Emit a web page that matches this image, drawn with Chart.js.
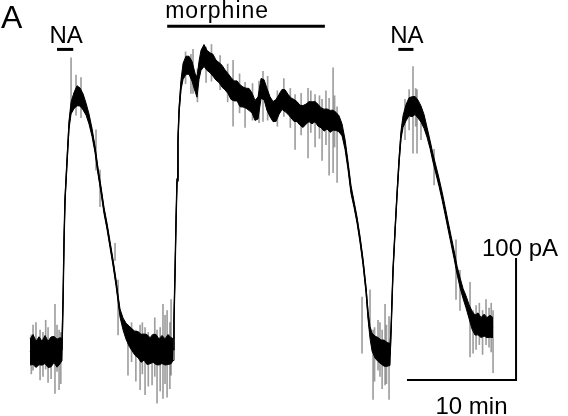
<!DOCTYPE html>
<html>
<head>
<meta charset="utf-8">
<script src="https://cdn.jsdelivr.net/npm/chart.js@4/dist/chart.umd.min.js"></script>
<style>
  html, body { margin: 0; padding: 0; background: #fff; }
  canvas { display: block; }
</style>
</head>
<body>
<canvas id="trace" width="568" height="416"></canvas>
<script>
// recording time (min), mean current (pA) and half-width of the noise band (pA)
const minutes = [
  0.00, 0.28, 0.56, 0.83, 1.11, 1.39, 1.67, 1.94, 2.22, 2.50, 2.78, 2.96,
  3.06, 3.15, 3.24, 3.43, 3.61, 3.80, 4.07, 4.35, 4.63, 4.91, 5.19, 5.46, 5.74, 6.02,
  6.30, 6.57, 6.85, 7.13, 7.41, 7.69, 7.96, 8.15, 8.33, 8.61, 8.89, 9.17, 9.44, 9.72,
  10.00, 10.28, 10.56, 10.83, 11.11, 11.39, 11.67, 11.94, 12.22, 12.50, 12.78, 13.06, 13.24,
  13.33, 13.43, 13.52, 13.61, 13.70, 13.80, 13.98, 14.17, 14.44, 14.72, 15.00, 15.28, 15.46,
  15.65, 15.83, 16.11, 16.39, 16.67, 16.94, 17.22, 17.50, 17.78, 18.06, 18.33, 18.61, 18.89,
  19.17, 19.44, 19.72, 20.00, 20.28, 20.56, 20.83, 21.11, 21.39, 21.67, 21.94, 22.22, 22.50,
  22.78, 23.06, 23.33, 23.61, 23.89, 24.17, 24.44, 24.72, 25.00, 25.28, 25.56, 25.83, 26.11,
  26.39, 26.67, 26.94, 27.22, 27.50, 27.78, 28.06, 28.33, 28.61, 28.89, 29.17, 29.44, 29.72,
  30.00, 30.28, 30.56, 30.83, 31.11, 31.30, 31.48, 31.67, 31.94, 32.22, 32.50, 32.78, 33.06, 33.33,
  33.43, 33.52, 33.61, 33.80, 33.98, 34.17, 34.35, 34.54, 34.81, 35.09, 35.37, 35.65, 35.93,
  36.20, 36.48, 36.76, 37.04, 37.31, 37.59, 37.87, 38.15, 38.43, 38.70, 38.98, 39.26, 39.54,
  39.81, 40.09, 40.37, 40.65, 40.93, 41.20, 41.48, 41.76, 42.04, 42.31, 42.59, 42.87
];
const current = [
  0, 2, -2, 1, -1, 2, -2, 0, 2, -1, 1, 2,
  43, 92, 125, 157, 186, 200, 206, 210, 209, 205, 199, 191, 180, 166,
  148, 133, 116, 103, 88, 73, 57, 44, 32, 23, 17, 13, 10, 7,
  6, 3, 4, 2, 1, 3, 2, 0, 2, 0, 2, 1, 2,
  26, 67, 108, 141, 174, 198, 219, 230, 235, 235, 230, 221, 217,
  231, 239, 243, 239, 237, 235, 231, 229, 226, 223, 220, 216, 214,
  214, 210, 209, 208, 207, 204, 198, 200, 216, 215, 207, 201, 197,
  198, 203, 207, 206, 203, 200, 198, 197, 194, 193, 195, 197, 196,
  197, 194, 192, 190, 191, 189, 190, 189, 187, 182, 170, 153, 133,
  121, 108, 92, 74, 51, 30, 16, 8, 4, 2, 0, -1, -2, -2,
  18, 43, 67, 100, 129, 157, 178, 189, 196, 201, 201, 202, 199,
  195, 189, 180, 170, 159, 149, 139, 128, 116, 104, 92, 80, 67,
  57, 48, 41, 33, 26, 22, 23, 20, 22, 20, 21, 20
];
const noise = [
  10.7, 12.3, 10.7, 11.5, 9.8, 11.5, 10.7, 12.3, 10.7, 11.5, 10.7, 9.0,
  1.2, 1.6, 1.6, 2.5, 3.3, 4.9, 6.6, 8.2, 7.4, 6.6, 4.9, 4.1, 3.3, 2.5,
  2.5, 2.5, 2.5, 2.5, 2.5, 2.5, 2.5, 2.5, 3.3, 4.9, 6.6, 8.2, 9.0, 9.8,
  10.7, 11.5, 10.7, 12.3, 10.7, 11.5, 12.3, 10.7, 11.5, 10.7, 12.3, 10.7, 9.0,
  1.6, 1.6, 1.6, 1.6, 1.6, 2.5, 4.1, 6.6, 7.4, 7.4, 8.2, 7.4, 8.2,
  7.4, 8.2, 9.0, 8.2, 8.2, 9.0, 8.2, 8.2, 9.0, 8.2, 8.2, 9.0, 8.2,
  8.2, 9.0, 8.2, 8.2, 9.0, 8.2, 8.2, 9.0, 8.2, 8.2, 9.0, 8.2, 8.2,
  9.0, 8.2, 8.2, 9.0, 8.2, 8.2, 9.0, 8.2, 8.2, 9.0, 8.2, 8.2, 9.0,
  8.2, 9.0, 8.2, 9.0, 8.2, 9.0, 8.2, 7.4, 6.6, 4.9, 4.1, 3.3, 3.3,
  2.5, 2.5, 2.5, 2.5, 2.5, 3.3, 4.9, 7.4, 9.0, 9.8, 9.8, 10.7, 9.8, 9.0,
  1.6, 1.6, 1.6, 1.6, 1.6, 2.5, 3.3, 4.9, 6.6, 7.4, 8.2, 7.4, 7.4,
  6.6, 5.7, 4.1, 3.3, 3.3, 3.3, 3.3, 3.3, 3.3, 3.3, 3.3, 3.3, 3.3,
  4.1, 4.1, 4.9, 5.7, 7.4, 8.2, 9.0, 8.2, 9.0, 8.2, 9.0, 8.2
];

// single large noise excursions: time (min), low and high current (pA)
const spikeMinutes = [
  3.80, 4.26, 4.72, 6.11, 6.48, 7.87,
  0.12, 0.28, 0.55, 0.93, 1.20, 1.45, 1.67, 1.95, 2.31, 2.50, 2.69, 2.85,
  8.15, 9.07, 9.40, 9.80, 10.19, 10.40, 10.65, 10.95, 11.30, 11.55, 11.76, 12.05,
  12.31, 12.50, 12.69, 12.95, 13.06,
  14.40, 14.90, 15.09, 15.50, 16.30, 16.80, 17.60, 18.30, 18.80, 19.40, 19.91,
  20.60, 21.20, 21.57, 22.00, 22.90, 23.50, 24.10, 24.54, 25.10, 25.74, 26.00,
  26.39, 26.80, 27.04, 27.40, 27.69, 28.06, 28.20, 28.43,
  30.74, 31.48, 31.76, 31.90, 32.22, 32.40, 32.60, 32.87, 33.00, 33.24,
  34.72, 35.10, 35.46, 35.70, 35.83, 36.20,
  37.41, 39.44, 39.81, 40.74, 41.02, 41.30, 41.60, 41.90, 42.22, 42.50, 42.70, 42.87
];
const spikeLow = [
  198, 194, 192, 149, 119, 75,
  -18, -15, -12, -23, -20, -14, -25, -22, -34, -16, -31, -26,
  14, -19, -8, -24, -31, -18, -35, -28, -27, -20, -42, -32,
  -38, -26, -37, -30, -19,
  220, 212, 212, 205, 221, 222, 215, 205, 185, 196, 184,
  190, 188, 189, 190, 185, 193, 184, 166, 178, 159, 180,
  168, 175, 157, 170, 145, 147, 168, 139,
  -1, 18, -39, -24, -15, -20, -30, -27, -26, -39,
  174, 182, 163, 185, 163, 174,
  137, 43, 34, -4, -1, 2, 6, -2, 6, 4, 0, -17
];
const spikeHigh = [
  241, 227, 225, 182, 149, 89,
  14, 22, 24, 18, 16, 26, 20, 12, 39, 22, 18, 16,
  59, 22, 24, 18, 22, 24, 20, 16, 14, 28, 18, 20,
  39, 30, 34, 24, 43,
  246, 244, 248, 232, 250, 252, 243, 236, 239, 228, 221,
  220, 222, 230, 226, 214, 224, 216, 211, 212, 216, 214,
  211, 210, 207, 214, 208, 233, 210, 201,
  45, 51, 18, 20, 26, 24, 18, 39, 22, 29,
  207, 215, 234, 216, 215, 198,
  166, 92, 67, 57, 34, 38, 40, 34, 43, 36, 40, 34
];

// drug application bars (min)
const drugLabels = ["NA", "morphine", "NA"];
const drugStart = [2.5, 12.7, 34.1];
const drugEnd = [4.0, 27.3, 35.5];
const drugLevel = [248, 267, 248];

// scale bars
const scaleMinutes = [34.9, 45.0];
const scalePA = [-23, 77];

const xMin = -2.78, xMax = 49.81;
const yMin = -52.5, yMax = 288.5;

const lower = minutes.map((t, i) => ({ x: t, y: current[i] - noise[i] }));
const upper = minutes.map((t, i) => ({ x: t, y: current[i] + noise[i] }));
const mean = minutes.map((t, i) => ({ x: t, y: current[i] }));
const spikes = spikeMinutes.map((t, i) => ({ x: t, y: [spikeLow[i], spikeHigh[i]] }));

const lineBase = { type: "line", pointRadius: 0, tension: 0, fill: false, borderColor: "#000" };

const datasets = [
  { type: "bar", data: spikes, backgroundColor: "rgba(0,0,0,0.38)", barThickness: 1, order: 5 },
  { ...lineBase, data: lower, borderWidth: 1, order: 2 },
  { ...lineBase, data: upper, borderWidth: 1, fill: 1, backgroundColor: "#000", order: 2 },
  { ...lineBase, data: mean, borderWidth: 1.4, order: 1 },
];
drugStart.forEach((s, i) => {
  datasets.push({ ...lineBase, borderWidth: 3, order: 1,
    data: [{ x: s, y: drugLevel[i] }, { x: drugEnd[i], y: drugLevel[i] }] });
});
datasets.push({ ...lineBase, borderWidth: 2, order: 1,
  data: [{ x: scaleMinutes[0], y: scalePA[0] }, { x: scaleMinutes[1], y: scalePA[0] }, { x: scaleMinutes[1], y: scalePA[1] }] });

const labelPlugin = {
  id: "labels",
  afterDraw(chart) {
    const { ctx, scales: { x, y } } = chart;
    ctx.save();
    ctx.fillStyle = "#000";
    ctx.textBaseline = "alphabetic";
    ctx.font = '32px "Liberation Sans", Arial, sans-serif';
    ctx.textAlign = "left";
    ctx.fillText("A", 1, 28);

    drugLabels.forEach((lab, i) => {
      const py = y.getPixelForValue(drugLevel[i]);
      if (lab === "NA") {
        ctx.font = '24px "Liberation Sans", Arial, sans-serif';
        ctx.letterSpacing = "0px";
        ctx.textAlign = "center";
        ctx.fillText(lab, (x.getPixelForValue(drugStart[i]) + x.getPixelForValue(drugEnd[i])) / 2 + 1, py - 6);
      } else {
        ctx.font = '23px "Liberation Sans", Arial, sans-serif';
        ctx.letterSpacing = "1px";
        ctx.textAlign = "left";
        ctx.fillText(lab, x.getPixelForValue(drugStart[i]) - 2, py - 8);
      }
    });
    ctx.letterSpacing = "0px";

    ctx.font = '24px "Liberation Sans", Arial, sans-serif';
    const bx = x.getPixelForValue(scaleMinutes[1]);
    ctx.textAlign = "right";
    ctx.fillText("100 pA", bx + 42, y.getPixelForValue(scalePA[1]) - 2);
    ctx.textAlign = "center";
    ctx.fillText("10 min", (x.getPixelForValue(scaleMinutes[0]) + bx) / 2 + 10, y.getPixelForValue(scalePA[0]) + 34);
    ctx.restore();
  }
};

new Chart(document.getElementById("trace"), {
  data: { datasets },
  options: {
    responsive: false,
    animation: false,
    devicePixelRatio: 1,
    layout: { padding: 0 },
    plugins: { legend: { display: false }, tooltip: { enabled: false } },
    scales: {
      x: { type: "linear", min: xMin, max: xMax, offset: false, display: false },
      y: { type: "linear", min: yMin, max: yMax, display: false }
    }
  },
  plugins: [labelPlugin]
});
</script>
</body>
</html>
